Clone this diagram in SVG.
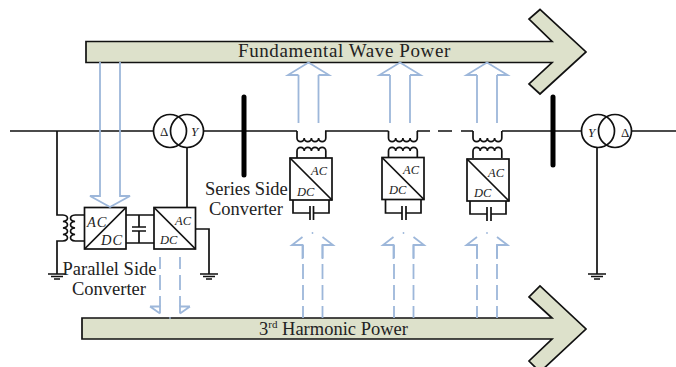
<svg xmlns="http://www.w3.org/2000/svg" width="676" height="367" viewBox="0 0 676 367">
<style>
.w{fill:none;stroke:#111;stroke-width:1.7}
.b{fill:#fff;stroke:#111;stroke-width:1.7}
.big{fill:#dde1cb;stroke:#111;stroke-width:1.7}
.up{fill:none;stroke:#9db7da;stroke-width:1.8}
.dash{fill:none;stroke:#9db7da;stroke-width:1.8;stroke-dasharray:15 6;stroke-dashoffset:3}
text{font-family:"Liberation Serif","Times New Roman",serif;fill:#222}
.l{font-size:18.500px}
.i{font-size:12.500px;font-style:italic}
.i2{font-size:14.500px;font-style:italic;letter-spacing:1px}
.s{font-size:13px}
</style>
<defs>
<g id="coilDown"><path class="w" d="M0 0V7a3.6 3.6 0 0 0 7.2 0a3.6 3.6 0 0 0 7.2 0a3.6 3.6 0 0 0 7.2 0a3.6 3.6 0 0 0 7.2 0V0"/></g>
<g id="coilUp"><path class="w" d="M0 0V-7a3.6 3.6 0 0 1 7.2 0a3.6 3.6 0 0 1 7.2 0a3.6 3.6 0 0 1 7.2 0a3.6 3.6 0 0 1 7.2 0V0"/></g>
<g id="gnd"><path class="w" d="M-9 0H9M-6 2.500H6M-3 5H3"/></g>
<g id="upHead"><path class="up" d="M-10 0H-20.500L0 -12.500L20.500 0H10"/></g>
<g id="dashHead"><path class="up" d="M-10 14V0H-20.500L-10 -8M10 14V0H20.500L10 -8"/><circle cx="0" cy="-12" r="0.900" fill="#9db7da"/></g>
</defs>

<g id="fundamental-arrow">
<path class="big" d="M86 41.500H552L529 19L540 9.500L586 52L540 94L529 84L552 62.500H86Z"/>
<text class="l" x="238" y="57" font-size="19px" style="font-size:19px;letter-spacing:.6px">Fundamental Wave Power</text>
</g>
<g id="harmonic-arrow">
<path class="big" d="M82 318H552L529 297L540 286L586 329L540 372L529 361L552 339H82Z"/>
<text class="l" x="259" y="335">3<tspan font-size="11px" dy="-7">rd</tspan><tspan dy="7"> Harmonic Power</tspan></text>
</g>

<g id="connectors">
<path class="w" d="M10 131H154M203 131H297M325 131H388.500M417 131H430M438 131H452M461 131H473M502 131H582M632 131H676"/>
<path class="w" d="M57 131V215H63M63 241H57V274M84 215H75M84 241H75M187 147V207.500M126 215H154M126 243H154M139 215V227M139 231V243M132 227H146M132 231H146M195 229H209V274M597 147V274"/>
<path class="w" d="M63 215a5.400 3.300 0 0 1 0 6.500a5.400 3.300 0 0 1 0 6.500a5.400 3.300 0 0 1 0 6.500a5.400 3.300 0 0 1 0 6.500"/>
<path class="w" d="M75 215a5.400 3.300 0 0 0 0 6.500a5.400 3.300 0 0 0 0 6.500a5.400 3.300 0 0 0 0 6.500a5.400 3.300 0 0 0 0 6.500"/>
<use href="#gnd" x="57" y="274"/>
<use href="#gnd" x="209" y="274"/>
<use href="#gnd" x="597" y="274"/>
<path class="w" d="M293 200V213H310M313.500 213H329V200M310 206V220M313.500 206V220"/>
<path class="w" d="M385.500 200V213H402M406 213H421V200M402 206V220M406 206V220"/>
<path class="w" d="M470 201V214H487M491 214H506V201M487 207V221M491 207V221"/>
<use href="#coilDown" x="297" y="131"/>
<use href="#coilUp" x="297" y="158"/>
<use href="#coilDown" x="388.500" y="131"/>
<use href="#coilUp" x="388.500" y="158"/>
<use href="#coilDown" x="473" y="131"/>
<use href="#coilUp" x="473" y="158"/>
</g>

<g id="buses">
<path d="M244 97V175M553 97V165" fill="none" stroke="#000" stroke-width="5" stroke-linecap="round"/>
</g>

<g id="transformer-left">
<circle class="w" cx="170" cy="131" r="16.500"/><circle class="w" cx="187" cy="131" r="16.500"/>
<text class="s" x="160" y="136">Δ</text><text class="s" x="191" y="136" font-style="italic">Y</text>
</g>
<g id="transformer-right">
<circle class="w" cx="598" cy="131" r="16.500"/><circle class="w" cx="615" cy="131" r="16.500"/>
<text class="s" x="588" y="137" font-style="italic">Y</text><text class="s" x="621" y="137">Δ</text>
</g>

<g id="parallel-ac-dc">
<rect class="b" x="84.500" y="207.500" width="41.500" height="41.500"/>
<path class="w" d="M84.500 249L126 207.500"/>
<text class="i2" x="87" y="227">AC</text><text class="i2" x="101" y="245">DC</text>
</g>
<g id="parallel-dc-ac">
<rect class="b" x="154" y="207.500" width="41.500" height="41.500"/>
<path class="w" d="M154 207.500L195.500 249"/>
<text class="i" x="175" y="225">AC</text><text class="i" x="160" y="244">DC</text>
</g>
<g id="series-1">
<rect class="b" x="290" y="158" width="42" height="42"/><path class="w" d="M290 158L332 200"/>
<text class="i" x="311" y="175">AC</text><text class="i" x="297" y="196">DC</text>
</g>
<g id="series-2">
<rect class="b" x="382" y="157.500" width="42" height="42"/><path class="w" d="M382 157.500L424 199.500"/>
<text class="i" x="403" y="174">AC</text><text class="i" x="389" y="194">DC</text>
</g>
<g id="series-3">
<rect class="b" x="467" y="159" width="42" height="42"/><path class="w" d="M467 159L509 201"/>
<text class="i" x="488" y="177">AC</text><text class="i" x="474" y="197">DC</text>
</g>

<g id="power-flows">
<path class="up" d="M100 62V196H90L110 207L130 196H120V62"/>
<g id="flow-up-1"><path class="up" d="M298.500 123V75M318.500 123V75"/><use href="#upHead" x="308.500" y="75"/></g>
<g id="flow-up-2"><path class="up" d="M390 123V75M410 123V75"/><use href="#upHead" x="400" y="75"/></g>
<g id="flow-up-3"><path class="up" d="M477 123V75M497 123V75"/><use href="#upHead" x="487" y="75"/></g>
<g id="flow-dash-1"><path class="dash" d="M303 318V245M322.500 318V245"/><use href="#dashHead" x="312.500" y="245"/></g>
<g id="flow-dash-2"><path class="dash" d="M394 318V245M413.500 318V245"/><use href="#dashHead" x="403.500" y="245"/></g>
<g id="flow-dash-3"><path class="dash" d="M477 318V245M497 318V245"/><use href="#dashHead" x="487" y="245"/></g>
<g id="flow-dash-down"><path class="dash" d="M160 257V306.500M180 257V306.500"/><path class="up" d="M150 306.500H160V313.500M150 306.500L160 313.500M190 306.500H180V313.500M190 306.500L180 313.500"/><circle cx="170" cy="318" r="0.900" fill="#9db7da"/></g>
</g>

<g id="labels">
<text class="l" x="109.500" y="275" text-anchor="middle">Parallel Side</text>
<text class="l" x="109" y="295" text-anchor="middle">Converter</text>
<text class="l" x="205" y="195">Series Side</text>
<text class="l" x="209" y="215">Converter</text>
</g>
</svg>
